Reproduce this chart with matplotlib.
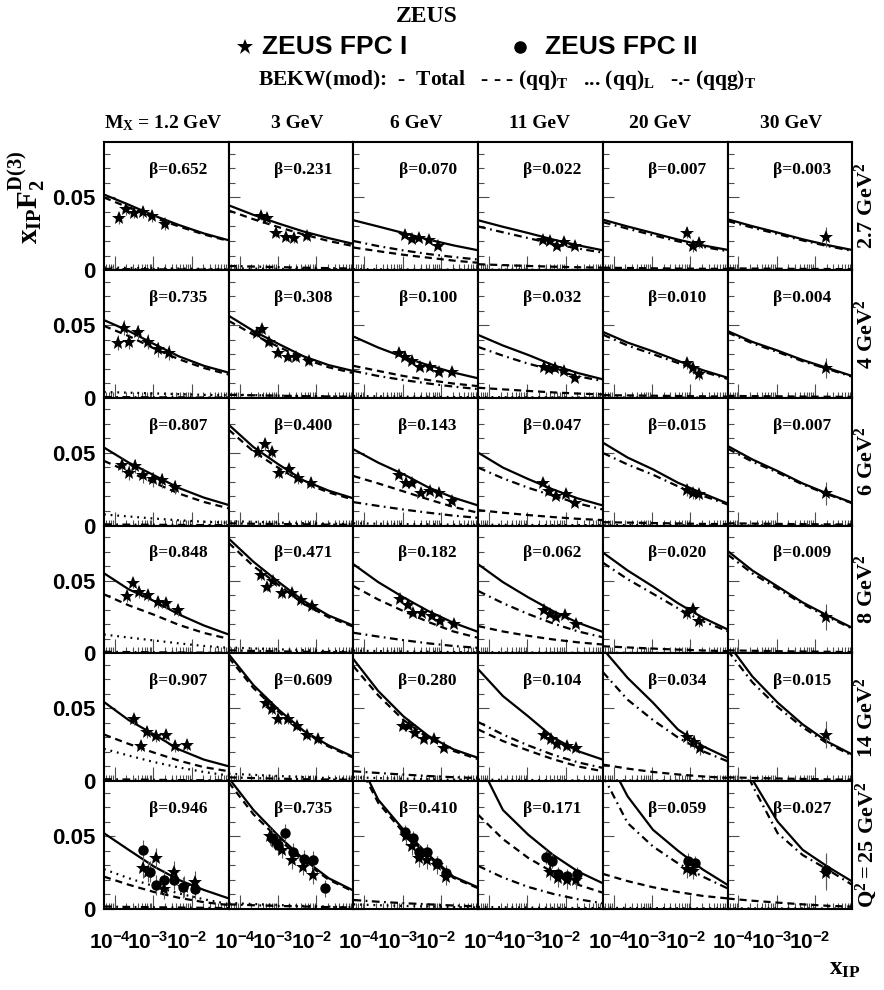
import numpy as np
import matplotlib.pyplot as plt
from matplotlib.lines import Line2D
from matplotlib.ticker import FixedLocator, MultipleLocator, LogLocator, NullFormatter
from matplotlib.transforms import ScaledTranslation

plt.rcParams['font.family'] = ['Liberation Serif', 'DejaVu Serif']
plt.rcParams['font.weight'] = 'bold'
plt.rcParams['mathtext.fontset'] = 'custom'
plt.rcParams['mathtext.rm'] = 'Liberation Serif:bold'
plt.rcParams['mathtext.it'] = 'Liberation Serif:bold'
plt.rcParams['mathtext.bf'] = 'Liberation Sans:bold'

MX = ['1.2', '3', '6', '11', '20', '30']
Q2 = ['2.7', '4', '6', '8', '14', '25']
BETA = [['0.652', '0.231', '0.070', '0.022', '0.007', '0.003'],
        ['0.735', '0.308', '0.100', '0.032', '0.010', '0.004'],
        ['0.807', '0.400', '0.143', '0.047', '0.015', '0.007'],
        ['0.848', '0.471', '0.182', '0.062', '0.020', '0.009'],
        ['0.907', '0.609', '0.280', '0.104', '0.034', '0.015'],
        ['0.946', '0.735', '0.410', '0.171', '0.059', '0.027']]

# x_IP points where the BEKW(mod) curves are sampled
XC = [5.2e-5, 2.3e-4, 1.05e-3, 4.7e-3, 2.1e-2, 9.3e-2]

# [Q2 row][M_X column] -> curve values at XC
TOTAL = [
    [[0.052, 0.045, 0.0375, 0.031, 0.0252, 0.0205], [0.0446, 0.038, 0.032, 0.0265, 0.022, 0.018],
     [0.0343, 0.030, 0.0255, 0.021, 0.017, 0.0136], [0.0343, 0.0298, 0.0255, 0.021, 0.017, 0.0136],
     [0.0347, 0.030, 0.0255, 0.021, 0.017, 0.0139], [0.035, 0.0302, 0.0258, 0.0212, 0.0172, 0.0138]],
    [[0.0535, 0.046, 0.037, 0.0285, 0.022, 0.0173], [0.0565, 0.046, 0.037, 0.0285, 0.0225, 0.0184],
     [0.0422, 0.0346, 0.028, 0.0224, 0.0174, 0.0134], [0.0433, 0.036, 0.0295, 0.0225, 0.017, 0.0127],
     [0.0454, 0.038, 0.032, 0.0255, 0.019, 0.0138], [0.046, 0.0385, 0.0325, 0.026, 0.0205, 0.015]],
    [[0.0537, 0.0433, 0.0346, 0.0258, 0.0192, 0.0141], [0.0694, 0.054, 0.042, 0.031, 0.024, 0.0187],
     [0.0525, 0.0433, 0.0353, 0.0262, 0.0192, 0.0138], [0.0502, 0.0399, 0.032, 0.0248, 0.0186, 0.0138],
     [0.0571, 0.0468, 0.0387, 0.0295, 0.0221, 0.0152], [0.0548, 0.0455, 0.0375, 0.029, 0.022, 0.0157]],
    [[0.0551, 0.044, 0.036, 0.0267, 0.0191, 0.0129], [0.079, 0.063, 0.049, 0.036, 0.026, 0.019],
     [0.0613, 0.049, 0.0385, 0.029, 0.021, 0.0147], [0.0613, 0.049, 0.0385, 0.029, 0.021, 0.0147],
     [0.0694, 0.057, 0.046, 0.0345, 0.0245, 0.0164], [0.0705, 0.057, 0.046, 0.035, 0.026, 0.0175]],
    [[0.0544, 0.0419, 0.032, 0.0217, 0.0147, 0.0101], [0.0873, 0.066, 0.049, 0.0345, 0.0245, 0.0166],
     [0.0839, 0.062, 0.0445, 0.031, 0.0218, 0.0159], [0.077, 0.0585, 0.0445, 0.030, 0.0205, 0.0147],
     [0.091, 0.071, 0.054, 0.0355, 0.024, 0.0159], [0.095, 0.072, 0.054, 0.039, 0.027, 0.0182]],
    [[0.052, 0.0405, 0.029, 0.0198, 0.0129, 0.0071], [0.090, 0.068, 0.050, 0.034, 0.021, 0.0125],
     [0.110, 0.0751, 0.0544, 0.0371, 0.0221, 0.0147], [0.102, 0.068, 0.051, 0.037, 0.0256, 0.0175],
     [0.110, 0.0774, 0.0544, 0.040, 0.027, 0.0164], [0.135, 0.089, 0.060, 0.0406, 0.029, 0.0187]],
]
QQ_T = [
    [[0.050, 0.043, 0.036, 0.030, 0.0245, 0.020], [0.041, 0.035, 0.0295, 0.0245, 0.020, 0.0165],
     [0.0155, 0.013, 0.0105, 0.0085, 0.0065, 0.005], [0.004, 0.0034, 0.0028, 0.0023, 0.0019, 0.0016],
     [0.0016, 0.0014, 0.0012, 0.001, 0.0009, 0.0008], [0.0012, 0.001, 0.0009, 0.0008, 0.0007, 0.0006]],
    [[0.0495, 0.0425, 0.034, 0.0265, 0.0205, 0.016], [0.053, 0.0435, 0.035, 0.027, 0.021, 0.017],
     [0.022, 0.0185, 0.015, 0.0122, 0.0098, 0.008], [0.0069, 0.0058, 0.0047, 0.0037, 0.0029, 0.0023],
     [0.0018, 0.0016, 0.0014, 0.0012, 0.001, 0.0008], [0.0013, 0.0011, 0.001, 0.0008, 0.0007, 0.0006]],
    [[0.0445, 0.037, 0.0295, 0.022, 0.0162, 0.0118], [0.066, 0.051, 0.0395, 0.0295, 0.0228, 0.0178],
     [0.0341, 0.029, 0.0235, 0.018, 0.0128, 0.0088], [0.0106, 0.0088, 0.0072, 0.0058, 0.0046, 0.0037],
     [0.0023, 0.002, 0.0017, 0.0014, 0.0011, 0.0009], [0.0015, 0.0013, 0.0011, 0.0009, 0.0008, 0.0007]],
    [[0.0406, 0.033, 0.0265, 0.0195, 0.014, 0.0099], [0.076, 0.060, 0.047, 0.034, 0.0248, 0.0183],
     [0.0463, 0.037, 0.029, 0.0215, 0.015, 0.0106], [0.0187, 0.015, 0.012, 0.0095, 0.0075, 0.006],
     [0.0048, 0.004, 0.0032, 0.0025, 0.0019, 0.0014], [0.002, 0.0017, 0.0014, 0.0012, 0.001, 0.0008]],
    [[0.032, 0.0255, 0.0195, 0.014, 0.0095, 0.0067], [0.085, 0.064, 0.0475, 0.0335, 0.0237, 0.016],
     [0.079, 0.059, 0.042, 0.0295, 0.0207, 0.015], [0.0355, 0.0275, 0.021, 0.015, 0.010, 0.0067],
     [0.0113, 0.0085, 0.0062, 0.0045, 0.0031, 0.0021], [0.0025, 0.0021, 0.0017, 0.0014, 0.0011, 0.0009]],
    [[0.0221, 0.0165, 0.0115, 0.0075, 0.0045, 0.0025], [0.087, 0.065, 0.048, 0.0325, 0.020, 0.0118],
     [0.106, 0.073, 0.0525, 0.036, 0.0213, 0.0141], [0.0647, 0.048, 0.035, 0.025, 0.0165, 0.011],
     [0.024, 0.019, 0.0148, 0.0115, 0.0088, 0.0071], [0.007, 0.0055, 0.0042, 0.003, 0.002, 0.0014]],
]
QQ_L = [
    [[0.0018, 0.0015, 0.0012, 0.001, 0.0008, 0.0006], [0.0012, 0.001, 0.0008, 0.0007, 0.0006, 0.0005],
     [0.0006, 0.0005, 0.0004, 0.0003, 0.0003, 0.0002], [0.0003, 0.0003, 0.0002, 0.0002, 0.0001, 0.0001],
     [0.0002, 0.0002, 0.0001, 0.0001, 0.0001, 0.0001], [0.0001, 0.0001, 0.0001, 0.0001, 0.0001, 0.0001]],
    [[0.004, 0.0035, 0.003, 0.0025, 0.002, 0.0017], [0.0022, 0.0018, 0.0015, 0.0012, 0.001, 0.0008],
     [0.0012, 0.001, 0.0008, 0.0007, 0.0005, 0.0004], [0.0005, 0.0004, 0.0003, 0.0003, 0.0002, 0.0002],
     [0.0003, 0.0002, 0.0002, 0.0001, 0.0001, 0.0001], [0.0001, 0.0001, 0.0001, 0.0001, 0.0001, 0.0001]],
    [[0.0076, 0.0062, 0.0048, 0.0036, 0.0026, 0.0019], [0.003, 0.0025, 0.002, 0.0016, 0.0013, 0.001],
     [0.0015, 0.0012, 0.001, 0.0008, 0.0006, 0.0005], [0.0006, 0.0005, 0.0004, 0.0003, 0.0003, 0.0002],
     [0.0003, 0.0003, 0.0002, 0.0002, 0.0001, 0.0001], [0.0002, 0.0001, 0.0001, 0.0001, 0.0001, 0.0001]],
    [[0.0129, 0.0108, 0.0088, 0.0068, 0.005, 0.0037], [0.004, 0.0033, 0.0027, 0.0021, 0.0016, 0.0012],
     [0.0018, 0.0015, 0.0012, 0.001, 0.0008, 0.0006], [0.0008, 0.0006, 0.0005, 0.0004, 0.0003, 0.0003],
     [0.0004, 0.0003, 0.0003, 0.0002, 0.0002, 0.0001], [0.0002, 0.0002, 0.0001, 0.0001, 0.0001, 0.0001]],
    [[0.0221, 0.0175, 0.013, 0.0093, 0.0062, 0.0037], [0.005, 0.0042, 0.0034, 0.0027, 0.002, 0.0015],
     [0.0025, 0.002, 0.0016, 0.0012, 0.0009, 0.0007], [0.001, 0.0008, 0.0007, 0.0005, 0.0004, 0.0003],
     [0.0005, 0.0004, 0.0003, 0.0003, 0.0002, 0.0002], [0.0003, 0.0002, 0.0002, 0.0001, 0.0001, 0.0001]],
    [[0.0272, 0.021, 0.0155, 0.0105, 0.0065, 0.0032], [0.004, 0.0032, 0.0025, 0.0019, 0.0014, 0.001],
     [0.003, 0.0024, 0.0019, 0.0015, 0.0011, 0.0008], [0.0012, 0.001, 0.0008, 0.0006, 0.0005, 0.0004],
     [0.0006, 0.0005, 0.0004, 0.0003, 0.0002, 0.0002], [0.0003, 0.0002, 0.0002, 0.0002, 0.0001, 0.0001]],
]
QQG_T = [
    [[0.0008, 0.0006, 0.0005, 0.0004, 0.0003, 0.0002], [0.0028, 0.0024, 0.002, 0.0016, 0.0013, 0.001],
     [0.020, 0.0165, 0.0135, 0.011, 0.009, 0.0072], [0.030, 0.026, 0.022, 0.018, 0.0148, 0.012],
     [0.033, 0.0285, 0.024, 0.0198, 0.016, 0.013], [0.0338, 0.0292, 0.0248, 0.0204, 0.0165, 0.0132]],
    [[0.0005, 0.0004, 0.0003, 0.0003, 0.0002, 0.0002], [0.002, 0.0017, 0.0014, 0.0011, 0.0009, 0.0007],
     [0.0185, 0.015, 0.0122, 0.0098, 0.0077, 0.006], [0.035, 0.029, 0.0235, 0.019, 0.0148, 0.0115],
     [0.0435, 0.036, 0.030, 0.024, 0.018, 0.013], [0.045, 0.0375, 0.0315, 0.0252, 0.0198, 0.0145]],
    [[0.0008, 0.0006, 0.0005, 0.0004, 0.0003, 0.0002], [0.0015, 0.0012, 0.001, 0.0008, 0.0006, 0.0005],
     [0.0161, 0.0135, 0.011, 0.0088, 0.0068, 0.0053], [0.0399, 0.0325, 0.026, 0.0205, 0.0152, 0.011],
     [0.050, 0.042, 0.035, 0.027, 0.0205, 0.0145], [0.053, 0.044, 0.0365, 0.0283, 0.0215, 0.0153]],
    [[0.001, 0.0008, 0.0006, 0.0005, 0.0004, 0.0003], [0.002, 0.0016, 0.0013, 0.001, 0.0008, 0.0006],
     [0.0141, 0.0115, 0.009, 0.0068, 0.005, 0.0037], [0.0429, 0.0345, 0.027, 0.0205, 0.015, 0.011],
     [0.0624, 0.051, 0.041, 0.031, 0.022, 0.0152], [0.068, 0.055, 0.0445, 0.034, 0.025, 0.017]],
    [[0.0012, 0.001, 0.0008, 0.0006, 0.0005, 0.0004], [0.0025, 0.002, 0.0016, 0.0012, 0.001, 0.0008],
     [0.0067, 0.0055, 0.0044, 0.0034, 0.0026, 0.002], [0.0406, 0.032, 0.0245, 0.018, 0.0128, 0.009],
     [0.075, 0.056, 0.042, 0.030, 0.0205, 0.0136], [0.090, 0.068, 0.051, 0.037, 0.0258, 0.0175]],
    [[0.0015, 0.0012, 0.001, 0.0008, 0.0006, 0.0004], [0.003, 0.0024, 0.0019, 0.0015, 0.0011, 0.0008],
     [0.006, 0.0048, 0.0038, 0.003, 0.0022, 0.0016], [0.0295, 0.0215, 0.015, 0.0102, 0.0065, 0.0037],
     [0.092, 0.059, 0.0429, 0.0313, 0.0221, 0.014], [0.125, 0.085, 0.052, 0.037, 0.027, 0.0164]],
]

# ZEUS FPC I points
FPC1_X = [
    [[1.3e-4, 1.9e-4, 3.1e-4, 5.5e-4, 9.4e-4, 2.0e-3], [3.6e-4, 5.2e-4, 8.8e-4, 1.6e-3, 2.65e-3, 5.7e-3],
     [1.18e-3, 1.72e-3, 2.73e-3, 4.98e-3, 8.55e-3], [2.48e-3, 3.85e-3, 5.75e-3, 9.1e-3, 1.73e-2],
     [8.05e-3, 1.16e-2, 1.66e-2], [1.87e-2]],
    [[1.18e-4, 1.69e-4, 2.37e-4, 4.07e-4, 7.4e-4, 1.35e-3, 2.62e-3], [2.8e-4, 3.9e-4, 5.9e-4, 1.03e-3, 1.82e-3, 2.94e-3, 6.3e-3],
     [7.9e-4, 1.13e-3, 1.72e-3, 2.9e-3, 5.2e-3, 8.7e-3, 1.95e-2], [2.68e-3, 3.7e-3, 5.2e-3, 9.1e-3, 1.73e-2],
     [8.05e-3, 1.16e-2, 1.66e-2], [1.87e-2]],
    [[1.55e-4, 2.32e-4, 3.39e-4, 5.5e-4, 1.0e-3, 1.66e-3, 3.69e-3], [3.1e-4, 4.6e-4, 6.9e-4, 1.09e-3, 2.0e-3, 3.43e-3, 7.4e-3],
     [8.2e-4, 1.23e-3, 1.72e-3, 3.03e-3, 5.3e-3, 9.1e-3, 1.95e-2], [2.57e-3, 3.69e-3, 5.5e-3, 9.9e-3, 1.73e-2],
     [8.05e-3, 1.16e-2, 1.66e-2], [1.87e-2]],
    [[2.02e-4, 2.9e-4, 4.3e-4, 7.1e-4, 1.3e-3, 2.15e-3, 4.5e-3], [3.58e-4, 5.13e-4, 7.36e-4, 1.26e-3, 2.31e-3, 3.96e-3, 7.7e-3],
     [8.7e-4, 1.35e-3, 1.9e-3, 3.13e-3, 5.7e-3, 9.6e-3, 2.15e-2], [2.73e-3, 4.0e-3, 5.5e-3, 9.5e-3, 1.8e-2],
     [8.05e-3, 1.2e-2, 1.7e-2], [1.87e-2]],
    [[3.13e-4, 4.78e-4, 6.97e-4, 1.18e-3, 2.15e-3, 3.69e-3, 7.45e-3], [4.9e-4, 7.06e-4, 1.03e-3, 1.82e-3, 3.12e-3, 5.7e-3, 1.1e-2],
     [1.0e-3, 1.5e-3, 2.15e-3, 3.69e-3, 6.7e-3, 1.18e-2], [2.68e-3, 4.08e-3, 5.97e-3, 1.05e-2, 1.84e-2],
     [8.05e-3, 1.23e-2, 1.73e-2], [1.87e-2]],
    [[5.5e-4, 7.4e-4, 1.18e-3, 1.9e-3, 3.54e-3, 6.3e-3, 1.25e-2], [6.3e-4, 8.5e-4, 1.26e-3, 2.3e-3, 4.37e-3, 8.1e-3],
     [1.23e-3, 1.76e-3, 2.68e-3, 4.3e-3, 7.8e-3, 1.36e-2], [4.0e-3, 6.3e-3, 1.07e-2, 1.84e-2],
     [8.05e-3, 1.2e-2], [1.87e-2]],
]
FPC1_Y = [
    [[0.0357, 0.0419, 0.0396, 0.0401, 0.0373, 0.0316], [0.0373, 0.0357, 0.0258, 0.0228, 0.0219, 0.0235],
     [0.0242, 0.0212, 0.0219, 0.0205, 0.0166], [0.0207, 0.0200, 0.0166, 0.0194, 0.0166],
     [0.0258, 0.0166, 0.0189], [0.0228]],
    [[0.038, 0.0484, 0.0387, 0.0454, 0.0387, 0.0334, 0.0311], [0.0449, 0.0472, 0.0387, 0.0311, 0.0281, 0.0281, 0.0253],
     [0.0311, 0.0281, 0.0253, 0.0214, 0.0214, 0.018, 0.018], [0.0214, 0.020, 0.0207, 0.0184, 0.0134],
     [0.0237, 0.0203, 0.0161], [0.0207]],
    [[0.0417, 0.0364, 0.041, 0.0346, 0.0318, 0.0311, 0.0265], [0.0509, 0.056, 0.0509, 0.0364, 0.0387, 0.0325, 0.0295],
     [0.0348, 0.029, 0.0295, 0.0221, 0.0237, 0.0226, 0.0168], [0.029, 0.0237, 0.0203, 0.0219, 0.0152],
     [0.0244, 0.0221, 0.0214], [0.0221]],
    [[0.0394, 0.0486, 0.0422, 0.0399, 0.0353, 0.0343, 0.0297], [0.0537, 0.0459, 0.0498, 0.0412, 0.0417, 0.0364, 0.0325],
     [0.0371, 0.0332, 0.0279, 0.0279, 0.0256, 0.0221, 0.0203], [0.0295, 0.0267, 0.0249, 0.026, 0.0203],
     [0.0279, 0.0302, 0.0221], [0.0249]],
    [[0.0424, 0.0244, 0.0336, 0.0309, 0.032, 0.024, 0.0251], [0.0539, 0.0493, 0.0424, 0.0424, 0.0378, 0.032, 0.029],
     [0.0378, 0.0382, 0.0332, 0.029, 0.0286, 0.0228], [0.032, 0.0286, 0.0256, 0.024, 0.0228],
     [0.0304, 0.0267, 0.0228], [0.032]],
    [[0.0279, 0.0256, 0.0348, 0.0134, 0.0256, 0.0152, 0.0187], [0.0502, 0.0463, 0.0406, 0.0336, 0.029, 0.0233],
     [0.0498, 0.0433, 0.0348, 0.0336, 0.0302, 0.0221], [0.0256, 0.021, 0.0198, 0.0198],
     [0.0272, 0.0262], [0.0249]],
]
FPC1_ERR = [[0.004, 0.003, 0.002, 0.002, 0.004, 0.007],
            [0.005, 0.003, 0.002, 0.002, 0.004, 0.007],
            [0.005, 0.004, 0.002, 0.002, 0.004, 0.008],
            [0.004, 0.003, 0.002, 0.002, 0.004, 0.009],
            [0.004, 0.003, 0.002, 0.003, 0.005, 0.009],
            [0.007, 0.006, 0.006, 0.006, 0.006, 0.012]]

# ZEUS FPC II points, Q2 = 25 GeV2 only
FPC2_X = [[5.5e-4, 8.2e-4, 1.17e-3, 1.9e-3, 3.54e-3, 6.1e-3, 1.25e-2],
          [6.9e-4, 1.03e-3, 1.54e-3, 2.54e-3, 4.83e-3, 8.1e-3, 1.64e-2],
          [1.18e-3, 1.82e-3, 2.62e-3, 4.34e-3, 7.9e-3, 1.36e-2],
          [3.03e-3, 4.26e-3, 6.3e-3, 1.11e-2, 1.91e-2],
          [8.55e-3, 1.28e-2],
          [1.87e-2]]
FPC2_Y = [[0.0406, 0.0256, 0.0164, 0.0198, 0.0198, 0.0147, 0.0134],
          [0.0486, 0.044, 0.0521, 0.0394, 0.0341, 0.0336, 0.0141],
          [0.0525, 0.0486, 0.0394, 0.0394, 0.0313, 0.0249],
          [0.0359, 0.0332, 0.024, 0.0226, 0.024],
          [0.0332, 0.0313],
          [0.0267]]
FPC2_ERR = [0.007, 0.006, 0.005, 0.005, 0.005, 0.012]

W, H = 884, 990
fig, axes = plt.subplots(6, 6, figsize=(W / 100, H / 100), dpi=100, sharex=True, sharey=True)
fig.subplots_adjust(left=104 / W, right=852.3 / W, top=1 - 142.3 / H, bottom=1 - 908.7 / H,
                    wspace=0, hspace=0)

styles = [(TOTAL, '-'), (QQ_T, (0, (3.2, 2.2))), (QQ_L, (0, (0.8, 2.2))), (QQG_T, (0, (3.5, 2, 0.8, 2)))]
sans = ['Liberation Sans', 'DejaVu Sans']
shift = ScaledTranslation(-5 / 100, 0, fig.dpi_scale_trans)


def draw_points(ax, x, y, err, marker, ms):
    x = np.asarray(x)
    y = np.asarray(y)
    xerr = [x - x / 1.26, x * 1.26 - x]
    ax.errorbar(x, y, yerr=err, xerr=xerr, fmt='none', ecolor='0.35', elinewidth=0.8, capsize=0, zorder=3)
    ax.plot(x, y, marker, ms=ms, color='k', mew=0, ls='none', zorder=4)


for r in range(6):
    for c in range(6):
        ax = axes[r][c]
        ax.set_xscale('log')
        ax.set_xlim(5.2e-5, 9.3e-2)
        ax.set_ylim(0, 0.088)
        for data, ls in styles:
            ax.plot(XC, data[r][c], color='k', lw=1.6, ls=ls, zorder=2)
        draw_points(ax, FPC1_X[r][c], FPC1_Y[r][c], FPC1_ERR[r][c], '*', 10.5)
        if r == 5:
            draw_points(ax, FPC2_X[c], FPC2_Y[c], FPC2_ERR[c], 'o', 7.5)
        ax.text(0.83, 0.782, 'β=' + BETA[r][c], transform=ax.transAxes, ha='right', va='center',
                fontsize=12.5)

        for sp in ax.spines.values():
            sp.set_linewidth(1.5)
        ax.yaxis.set_major_locator(FixedLocator([0, 0.05]))
        ax.yaxis.set_minor_locator(MultipleLocator(0.01))
        ax.xaxis.set_major_locator(FixedLocator([1e-4, 1e-3, 1e-2]))
        ax.xaxis.set_minor_locator(LogLocator(base=10, subs=np.arange(2, 10)))
        ax.xaxis.set_minor_formatter(NullFormatter())
        ax.tick_params(which='both', direction='in', top=False, right=False, color='0.3', width=0.8)
        ax.tick_params(axis='x', which='major', length=10)
        ax.tick_params(axis='x', which='minor', length=4.5)
        ax.tick_params(axis='y', which='major', length=8)
        ax.tick_params(axis='y', which='minor', length=4.5)
        ax.tick_params(axis='y', labelleft=(c == 0), pad=6)
        ax.tick_params(axis='x', labelbottom=(r == 5), pad=17)

for ax in axes[:, 0]:
    ax.set_yticklabels(['0', '0.05'], fontfamily=sans, fontweight='bold', fontsize=16)
for ax in axes[5]:
    ax.set_xticklabels([r'$\mathbf{10^{-4}}$', r'$\mathbf{10^{-3}}$', r'$\mathbf{10^{-2}}$'], fontsize=15)
    for lab in ax.get_xticklabels():
        lab.set_transform(lab.get_transform() + shift)

# header: experiment, legend, model line styles, M_X columns
fig.text(427 / W, 1 - 17 / H, 'ZEUS', ha='center', va='center', fontsize=17)
fig.add_artist(Line2D([245 / W], [1 - 47 / H], marker='*', ms=12, color='k', mew=0, transform=fig.transFigure))
fig.text(262 / W, 1 - 47 / H, 'ZEUS FPC I', ha='left', va='center', fontsize=19,
         fontfamily=sans, fontweight='bold')
fig.add_artist(Line2D([520 / W], [1 - 47 / H], marker='o', ms=9, color='k', mew=0, transform=fig.transFigure))
fig.text(545 / W, 1 - 47 / H, 'ZEUS FPC II', ha='left', va='center', fontsize=19,
         fontfamily=sans, fontweight='bold')
fig.text(507 / W, 1 - 80 / H,
         r'BEKW(mod):  -  Total   - - - (qq)$_\mathrm{T}$   ... (qq)$_\mathrm{L}$   -.- (qqg)$_\mathrm{T}$',
         ha='center', va='center', fontsize=15.5)
mx_pos = [163, 297, 416, 540, 660, 791]
for i, m in enumerate(MX):
    txt = r'$\mathrm{M_X}$ = ' + m + ' GeV' if i == 0 else m + ' GeV'
    fig.text(mx_pos[i] / W, 1 - 123 / H, txt, ha='center', va='center', fontsize=14)

# Q2 rows on the right
for r, q in enumerate(Q2):
    yc = 1 - (142.3 + (r + 0.5) * 127.73) / H
    txt = r'$\mathrm{Q^2 = %s\ GeV^2}$' % q if r == 5 else r'$\mathrm{%s\ GeV^2}$' % q
    fig.text(866 / W, yc, txt, rotation=90, ha='center', va='center', fontsize=16)

fig.text(27 / W, 1 - 197 / H, r'$\mathrm{x_{IP}F_2^{D(3)}}$', rotation=90, ha='center', va='center', fontsize=21)
fig.text(845 / W, 1 - 968 / H, r'$\mathrm{x_{IP}}$', ha='center', va='center', fontsize=18)

fig.savefig('out.png', dpi=100)
